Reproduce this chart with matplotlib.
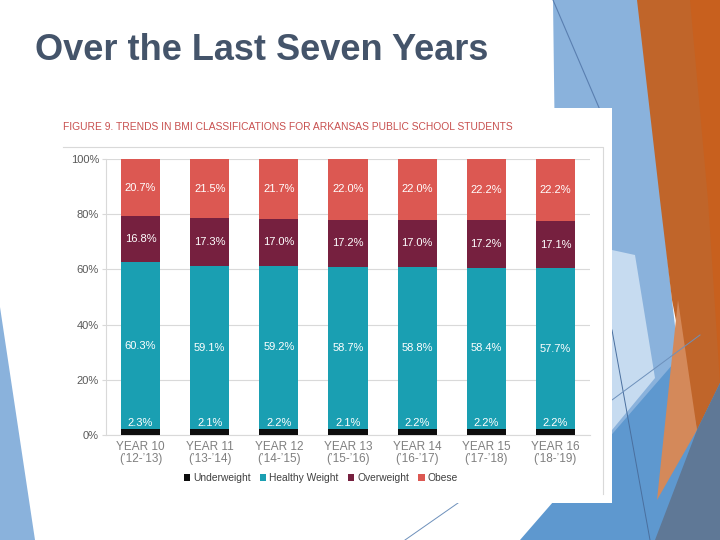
import numpy as np
import matplotlib
matplotlib.use('Agg')
import matplotlib.pyplot as plt
from matplotlib.patches import Polygon, Rectangle, Patch
from matplotlib.lines import Line2D

# 数据
years = ["YEAR 10\n(’12-’13)", "YEAR 11\n(’13-’14)", "YEAR 12\n(’14-’15)",
         "YEAR 13\n(’15-’16)", "YEAR 14\n(’16-’17)", "YEAR 15\n(’17-’18)",
         "YEAR 16\n(’18-’19)"]
underweight = [2.3, 2.1, 2.2, 2.1, 2.2, 2.2, 2.2]
healthy = [60.3, 59.1, 59.2, 58.7, 58.8, 58.4, 57.7]
overweight = [16.8, 17.3, 17.0, 17.2, 17.0, 17.2, 17.1]
obese = [20.7, 21.5, 21.7, 22.0, 22.0, 22.2, 22.2]
series_names = ["Underweight", "Healthy Weight", "Overweight", "Obese"]
series_colors = ["#0d0d0d", "#1a9fb2", "#76203f", "#dc5852"]

slide_title = "Over the Last Seven Years"
chart_title = "FIGURE 9. TRENDS IN BMI CLASSIFICATIONS FOR ARKANSAS PUBLIC SCHOOL STUDENTS"

W, H = 720, 540
fig = plt.figure(figsize=(W / 100, H / 100), dpi=100)


def px(pts):
    """像素坐标 -> figure坐标"""
    return [(x / W, 1 - y / H) for x, y in pts]


def add_poly(pts, color, z=0):
    fig.patches.append(Polygon(px(pts), closed=True, transform=fig.transFigure,
                               facecolor=color, edgecolor='none', zorder=z))


def add_line(pts, color, lw=0.7, z=1):
    xy = px(pts)
    fig.lines.append(Line2D([p[0] for p in xy], [p[1] for p in xy],
                            transform=fig.transFigure, color=color, lw=lw, zorder=z))


# 背景装饰
add_poly([(553, 0), (640, 0), (672, 300), (700, 540), (560, 540)], "#8ab2dc", 0)
add_poly([(612, 250), (635, 255), (655, 378), (612, 430)], "#c6dbf0", 0.5)
add_poly([(520, 540), (700, 333), (720, 330), (720, 540)], "#5e98cf", 0.6)
add_poly([(637, 0), (720, 0), (720, 383), (697, 430), (672, 300), (660, 200)], "#c0652a", 0.7)
add_poly([(690, 0), (720, 0), (720, 383), (708, 200)], "#c8601e", 0.75)
add_poly([(678, 300), (697, 430), (657, 500)], "#d4895a", 0.8)
add_poly([(720, 383), (697, 430), (655, 540), (720, 540)], "#5f7896", 0.85)
add_poly([(0, 307), (35, 540), (0, 540)], "#8ab2dc", 0.5)
add_line([(553, 0), (600, 110)], "#5a7fb0", 0.8)
add_line([(612, 330), (650, 540)], "#4a6f9e", 0.7)
add_line([(612, 400), (700, 335)], "#6d90bb", 0.7)
add_line([(405, 540), (458, 503)], "#6d90bb", 0.7)

# 白色图片区域
fig.patches.append(Rectangle((45 / W, 1 - 503 / H), (612 - 45) / W, (503 - 108) / H,
                             transform=fig.transFigure, facecolor='white',
                             edgecolor='none', zorder=2))
add_line([(63, 147), (603, 147), (603, 494)], "#d9d9d9", 0.8, 3)

# 标题
fig.text(35 / W, 1 - 50 / H, slide_title, fontsize=26, fontweight='bold',
         color="#44546a", family=['Liberation Sans', 'DejaVu Sans'], va='center', ha='left')
fig.text(63 / W, 1 - 127 / H, chart_title, fontsize=7.4, color="#c8504f",
         family=['Liberation Sans Narrow', 'Liberation Sans', 'DejaVu Sans'],
         va='center', ha='left', zorder=4)

# 柱状图
ax = fig.add_axes([106 / W, 1 - 435 / H, (590 - 106) / W, (435 - 159) / H], zorder=5)
ax.patch.set_alpha(0)

data = np.array([underweight, healthy, overweight, obese])
share = data / data.sum(axis=0) * 100  # 100%堆积
x = np.arange(len(years))
bar_w = 0.565
bottom = np.zeros(len(years))
for i, (name, col) in enumerate(zip(series_names, series_colors)):
    ax.bar(x, share[i], bar_w, bottom=bottom, color=col, label=name, zorder=3)
    for xi, b, h, v in zip(x, bottom, share[i], data[i]):
        if i == 0:
            ax.text(xi, b + h + 0.3, f"{v:.1f}%", ha='center', va='bottom',
                    color='white', fontsize=8, zorder=4,
                    family=['Liberation Sans', 'DejaVu Sans'])
        else:
            ax.text(xi, b + h / 2, f"{v:.1f}%", ha='center', va='center',
                    color='white', fontsize=8, zorder=4,
                    family=['Liberation Sans', 'DejaVu Sans'])
    bottom += share[i]

ax.set_xlim(-0.5, 6.5)
ax.set_ylim(0, 100)
ax.set_yticks([0, 20, 40, 60, 80, 100])
ax.set_yticklabels([f"{v}%" for v in range(0, 101, 20)])
ax.set_xticks(x)
ax.set_xticklabels(years, linespacing=1.0)
ax.grid(axis='y', color='#d9d9d9', lw=0.8, zorder=0)
ax.set_axisbelow(True)
for s in ['top', 'right']:
    ax.spines[s].set_visible(False)
ax.spines['left'].set_color('#d9d9d9')
ax.spines['bottom'].set_color('#d9d9d9')
ax.tick_params(axis='y', length=3, color='#d9d9d9', labelsize=8, labelcolor='#595959', pad=2)
ax.tick_params(axis='x', length=0, labelsize=8.5, labelcolor='#7f7f7f', pad=4)
for t in ax.get_xticklabels() + ax.get_yticklabels():
    t.set_family(['Liberation Sans', 'DejaVu Sans'])

handles = [Patch(facecolor=c, edgecolor='none', label=n)
           for n, c in zip(series_names, series_colors)]
leg = fig.legend(handles=handles, loc='center', bbox_to_anchor=(321 / W, 1 - 478 / H),
                 ncol=4, frameon=False, handlelength=0.6, handleheight=0.6,
                 handletextpad=0.3, columnspacing=0.9,
                 prop={'family': ['Liberation Sans', 'DejaVu Sans'], 'size': 7.4})
for t in leg.get_texts():
    t.set_color('#404040')
leg.set_zorder(6)

fig.savefig("out.png", dpi=100)
